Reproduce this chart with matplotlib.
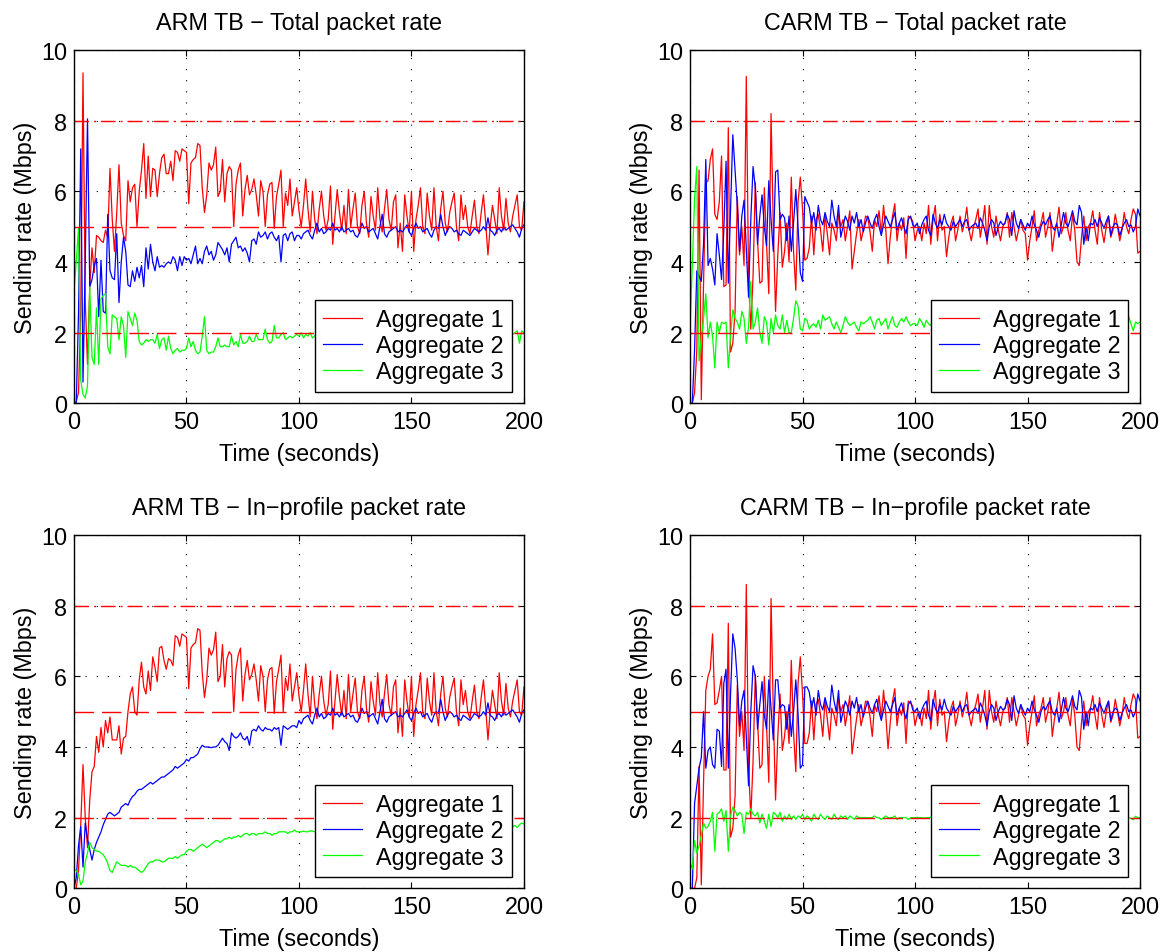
"""
Sending rate of three aggregates, ARM vs CARM token bucket (total and in-profile).
"""
import numpy as np
import matplotlib
matplotlib.use("Agg")
import matplotlib.pyplot as plt

plt.rcParams['font.family'] = ['Liberation Sans', 'DejaVu Sans']
plt.rcParams['font.size'] = 16.8

# ---------------- data: Mbps, one sample per second ----------------
# ARM, aggregate 1 (red); total and in-profile share the part after t=45 s
arm_red_total_head = [
    0.0, 0.05, 0.3, 2.6, 9.35, 2.9, 1.1, 3.3, 4.4, 3.7,
    4.75, 4.7, 4.6, 4.55, 4.9, 4.7, 6.65, 5.2, 4.3, 5.4,
    6.75, 5.1, 4.75, 4.6, 6.3, 5.7, 6.1, 6.2, 5.0, 6.0,
    6.6, 7.35, 5.8, 7.0, 5.85, 6.65, 6.6, 5.85, 6.5, 6.95,
    7.05, 6.5, 6.5, 6.85, 6.3]
arm_red_in_head = [
    0.0, 0.0, 0.5, 1.8, 3.5, 2.0, 1.15, 2.5, 3.3, 3.45,
    4.3, 3.85, 4.55, 4.0, 4.75, 4.4, 4.85, 4.2, 4.2, 4.2,
    4.6, 3.8, 4.25, 4.3, 5.0, 5.5, 5.7, 5.0, 4.9, 5.9,
    6.4, 5.7, 5.5, 6.15, 5.6, 6.55, 6.25, 5.85, 6.8, 6.85,
    6.45, 6.2, 6.5, 6.45, 6.3]
arm_red_tail = [
    7.15, 7.1, 6.85, 7.2, 7.15,
    7.1, 5.65, 6.8, 6.9, 6.95, 7.35, 7.3, 6.1, 5.4, 5.9,
    6.8, 6.6, 6.75, 7.25, 5.85, 6.0, 6.9, 5.7, 6.5, 6.7,
    6.6, 5.0, 6.2, 6.6, 6.8, 5.3, 6.05, 6.45, 5.9, 6.05,
    6.35, 5.9, 5.3, 6.3, 6.0, 5.0, 5.9, 6.2, 6.25, 4.95,
    5.85, 6.2, 6.6, 5.0, 5.95, 5.6, 6.35, 5.3, 5.7, 6.1,
    5.45, 5.0, 5.6, 6.35, 5.5, 4.85, 6.0, 5.2, 4.8, 5.5,
    6.0, 5.3, 4.9, 5.2, 6.15, 4.5, 5.3, 6.05, 5.4, 4.9,
    5.6, 4.8, 6.05, 5.0, 5.5, 5.95, 5.0, 4.8, 5.6, 6.0,
    5.1, 4.7, 5.85, 5.3, 4.9, 6.1, 5.2, 4.85, 5.5, 6.05,
    5.2, 4.9, 5.7, 5.9, 4.4, 5.1, 4.3, 5.9, 5.3, 4.85,
    6.0, 4.3, 5.2, 5.6, 6.1, 5.0, 4.8, 5.95, 5.3, 4.9,
    6.1, 5.0, 4.6, 5.5, 6.0, 5.1, 4.85, 5.4, 5.7, 5.95,
    5.0, 4.6, 5.9, 5.2, 5.6, 5.0, 4.8, 5.3, 5.75, 5.0,
    4.8, 5.4, 5.9, 5.1, 4.2, 5.0, 5.6, 5.2, 4.8, 6.1,
    5.3, 4.9, 5.8, 5.1, 4.85, 5.3, 5.6, 5.9, 5.0, 4.9,
    5.7]

# ARM, aggregate 2 (blue); shared part after t=100 s
arm_blue_total_head = [
    0.0, 0.0, 2.5, 7.2, 0.6, 4.0, 8.05, 3.3, 3.5, 3.9,
    4.1, 2.45, 4.05, 2.6, 2.55, 5.35, 3.75, 3.55, 3.5, 4.8,
    2.85, 4.0, 4.7, 4.3, 3.35, 3.3, 3.75, 3.45, 3.85, 3.55,
    3.9, 3.3, 4.4, 3.8, 4.5, 4.0, 3.75, 4.15, 3.85, 3.9,
    3.85, 3.95, 4.0, 3.95, 4.15, 4.05, 3.75, 4.15, 3.9, 4.15,
    4.05, 4.1, 3.95, 4.2, 4.45, 3.95, 4.1, 3.95, 4.3, 4.45,
    4.2, 4.3, 4.05, 4.2, 4.55, 4.45, 4.35, 4.2, 4.4, 4.0,
    4.5, 4.6, 4.7, 4.4, 4.45, 4.3, 4.4, 4.25, 4.0, 4.6,
    4.65, 4.5, 4.85, 4.7, 4.75, 4.85, 4.65, 4.8, 4.85, 4.7,
    4.6, 4.75, 4.0, 4.75, 4.8, 4.6, 4.8, 4.85, 4.6, 4.75]
arm_blue_in_head = [
    0.0, 0.3, 1.2, 1.75, 0.6, 1.85, 1.4, 1.1, 0.8, 1.1,
    1.3, 1.45, 1.6, 1.8, 1.95, 2.1, 2.15, 2.1, 2.05, 2.1,
    2.15, 2.3, 2.35, 2.4, 2.35, 2.5, 2.6, 2.65, 2.75, 2.8,
    2.8, 2.85, 2.9, 2.95, 3.0, 2.95, 3.0, 3.05, 3.1, 3.15,
    3.15, 3.2, 3.25, 3.3, 3.35, 3.45, 3.4, 3.45, 3.5, 3.55,
    3.65, 3.6, 3.7, 3.7, 3.75, 3.8, 3.95, 4.05, 4.0, 4.0,
    4.0, 3.98, 4.0, 4.0, 4.05, 4.15, 4.25, 4.15, 4.1, 3.9,
    4.4, 4.3, 4.25, 4.3, 4.4, 4.25, 4.2, 4.3, 4.05, 4.45,
    4.5, 4.45, 4.6, 4.5, 4.45, 4.55, 4.5, 4.5, 4.45, 4.55,
    4.5, 4.55, 4.05, 4.6, 4.55, 4.5, 4.55, 4.6, 4.6, 4.55]
arm_blue_tail = [
    4.75, 4.65, 4.8, 4.85, 4.9, 4.75, 4.65, 4.9, 5.1, 4.85,
    4.95, 4.8, 4.85, 4.95, 4.9, 5.1, 4.9, 4.95, 4.85, 5.0,
    4.85, 4.9, 4.95, 4.85, 4.9, 4.75, 4.7, 4.85, 5.1, 4.95,
    5.0, 4.85, 4.9, 4.95, 4.8, 4.65, 5.0, 5.35, 4.8, 4.7,
    4.85, 4.9, 4.95, 5.0, 4.85, 4.9, 4.85, 4.95, 5.05, 4.85,
    4.75, 4.95, 5.1, 4.95, 5.0, 4.85, 4.9, 4.95, 4.8, 4.7,
    4.9, 5.0, 4.95, 5.35, 5.0, 4.75, 4.9, 5.0, 4.95, 4.85,
    4.9, 4.8, 4.75, 4.9, 4.85, 4.8, 4.75, 4.85, 4.95, 4.9,
    4.85, 4.9, 5.0, 4.9, 5.25, 4.9, 4.85, 4.75, 4.9, 4.95,
    4.85, 5.0, 4.9, 4.95, 5.0, 5.05, 4.95, 4.85, 4.7, 4.95,
    5.05]

# ARM, aggregate 3 (green)
arm_green_total = [
    3.2, 4.0, 4.95, 0.65, 0.25, 0.15, 0.5, 3.3, 1.3, 1.1,
    2.7, 1.1, 2.95, 3.05, 3.1, 1.6, 1.4, 2.5, 2.45, 2.4,
    1.8, 2.45, 2.2, 1.3, 2.6, 2.4, 2.2, 2.55, 2.35, 1.75,
    1.65, 1.7, 1.8, 1.75, 1.8, 1.8, 1.7, 1.95, 1.55, 1.8,
    1.85, 1.5, 1.9, 1.55, 1.4, 1.5, 1.55, 1.45, 1.5, 1.5,
    1.55, 1.85, 1.6, 1.75, 1.5, 1.4, 1.45, 1.9, 2.45, 1.5,
    1.4, 1.45, 1.45, 1.6, 1.85, 1.6, 1.6, 1.65, 1.6, 1.6,
    1.9, 1.65, 1.75, 1.6, 1.95, 1.7, 1.7, 1.75, 1.9, 1.75,
    1.75, 1.95, 1.8, 1.8, 1.8, 2.1, 1.8, 1.7, 1.75, 2.2,
    1.85, 1.85, 1.95, 2.0, 1.8, 1.85, 1.9, 1.85, 1.9, 1.95,
    1.9, 2.0, 1.85, 1.95, 1.9, 2.0, 1.85, 1.9, 2.0, 1.95,
    1.85, 1.95, 2.05, 1.9, 1.85, 2.0, 1.95, 1.9, 2.05, 1.9,
    1.95, 1.85, 2.0, 1.95, 1.9, 2.05, 1.85, 1.95, 2.0, 1.9,
    1.9, 2.0, 1.85, 1.95, 2.05, 1.9, 1.95, 1.85, 2.0, 1.95,
    1.9, 2.05, 1.95, 1.85, 2.0, 1.9, 1.95, 2.0, 1.85, 1.95,
    2.0, 1.9, 1.95, 2.05, 1.85, 1.95, 2.0, 1.9, 1.95, 1.85,
    2.0, 1.95, 1.9, 2.05, 1.9, 1.95, 1.85, 2.0, 1.95, 1.9,
    2.05, 1.9, 1.95, 1.85, 2.0, 1.9, 1.95, 2.05, 1.9, 1.95,
    1.85, 2.0, 1.95, 1.9, 2.05, 1.9, 1.95, 1.85, 2.0, 1.95,
    1.9, 2.0, 1.95, 1.85, 2.0, 1.95, 2.0, 2.05, 1.7, 2.05,
    2.0]
arm_green_in = [
    0.55, 0.5, 0.4, 0.1, 0.2, 0.75, 1.0, 1.3, 1.15, 1.1,
    1.05, 1.05, 1.0, 0.95, 0.85, 0.7, 0.5, 0.45, 0.6, 0.75,
    0.7, 0.65, 0.65, 0.65, 0.6, 0.65, 0.6, 0.6, 0.55, 0.5,
    0.45, 0.5, 0.6, 0.7, 0.75, 0.75, 0.8, 0.8, 0.8, 0.75,
    0.75, 0.8, 0.85, 0.85, 0.85, 0.9, 0.85, 0.9, 0.95, 0.95,
    1.05, 1.1, 1.1, 1.05, 1.1, 1.15, 1.2, 1.25, 1.2, 1.15,
    1.2, 1.25, 1.3, 1.35, 1.35, 1.3, 1.35, 1.4, 1.4, 1.45,
    1.4, 1.45, 1.45, 1.5, 1.45, 1.5, 1.55, 1.55, 1.5, 1.55,
    1.55, 1.5, 1.55, 1.55, 1.55, 1.6, 1.55, 1.55, 1.5, 1.55,
    1.55, 1.6, 1.6, 1.6, 1.6, 1.55, 1.6, 1.6, 1.65, 1.6,
    1.6, 1.6, 1.62, 1.6, 1.6, 1.63, 1.62, 1.6, 1.63, 1.65,
    1.63, 1.65, 1.64, 1.66, 1.65, 1.66, 1.68, 1.66, 1.67, 1.68,
    1.66, 1.68, 1.7, 1.68, 1.69, 1.7, 1.68, 1.7, 1.72, 1.7,
    1.71, 1.72, 1.7, 1.72, 1.73, 1.72, 1.74, 1.72, 1.73, 1.75,
    1.73, 1.74, 1.75, 1.74, 1.76, 1.75, 1.74, 1.76, 1.75, 1.77,
    1.76, 1.75, 1.77, 1.76, 1.78, 1.76, 1.77, 1.78, 1.76, 1.77,
    1.78, 1.77, 1.76, 1.78, 1.77, 1.79, 1.78, 1.77, 1.79, 1.78,
    1.77, 1.79, 1.78, 1.8, 1.78, 1.77, 1.79, 1.8, 1.78, 1.79,
    1.8, 1.78, 1.79, 1.8, 1.78, 1.8, 1.79, 1.78, 1.8, 1.79,
    1.78, 1.8, 1.79, 1.77, 1.8, 1.75, 1.78, 1.72, 1.8, 1.85,
    1.82]

# CARM, aggregate 1 (red); shared part after t=52 s
carm_red_total_head = [
    0.0, 0.0, 0.3, 1.5, 6.6, 0.1, 3.4, 6.25, 6.3, 6.9,
    7.2, 5.35, 5.2, 5.7, 7.0, 3.3, 3.35, 7.8, 1.45, 1.7,
    2.6, 5.85, 4.2, 5.0, 3.9, 9.25, 3.5, 2.1, 3.6, 6.25,
    4.6, 3.4, 3.45, 6.1, 4.5, 3.1, 8.2, 5.0, 2.6, 4.2,
    5.4, 3.85, 4.3, 5.1, 4.0, 6.4, 4.3, 3.2, 5.7, 6.4,
    5.5, 4.05]
carm_red_in_head = [
    0.0, 0.0, 0.0, 0.3, 3.45, 0.1, 3.0, 5.6, 6.0, 6.2,
    7.2, 5.2, 5.25, 5.6, 6.0, 3.35, 3.35, 7.5, 1.45, 1.7,
    2.6, 5.75, 4.3, 5.0, 3.9, 8.6, 3.5, 2.0, 3.6, 6.05,
    4.7, 3.4, 3.5, 6.0, 4.6, 3.0, 8.2, 5.0, 2.5, 4.3,
    5.5, 3.9, 4.3, 5.0, 4.1, 6.45, 4.4, 3.3, 5.8, 6.55,
    5.5, 4.1]
carm_red_tail = [
    4.1, 4.4, 5.3, 4.2, 5.2, 5.35, 4.9, 4.3,
    5.35, 4.8, 4.2, 5.1, 4.9, 4.6, 5.35, 5.0, 5.2, 4.6,
    5.0, 5.45, 3.8, 4.3, 4.8, 5.2, 4.6, 4.9, 5.3, 5.25,
    4.85, 4.3, 5.2, 5.0, 5.45, 4.8, 5.6, 4.9, 3.95, 4.7,
    5.3, 5.65, 4.6, 5.1, 4.9, 5.25, 4.1, 5.3, 5.25, 5.15,
    4.6, 4.9, 5.0, 4.6, 5.1, 4.8, 5.6, 4.5, 5.2, 5.6,
    4.6, 5.35, 4.9, 5.0, 4.15, 4.7, 5.1, 5.3, 4.6, 4.9,
    5.3, 4.85, 5.1, 5.55, 4.9, 4.6, 5.0, 5.2, 5.5, 4.7,
    5.1, 5.6, 4.5, 5.6, 5.0, 4.7, 5.3, 4.9, 4.6, 5.0,
    5.1, 5.4, 4.7, 5.4, 5.0, 4.6, 4.9, 5.2, 4.9, 4.8,
    4.05, 4.6, 5.0, 5.45, 4.6, 4.9, 5.1, 5.4, 4.7, 5.0,
    5.4, 4.3, 4.8, 5.1, 5.55, 4.8, 5.0, 5.4, 4.9, 4.6,
    5.35, 4.9, 4.0, 3.9, 4.7, 5.3, 4.6, 5.0, 5.1, 5.45,
    4.9, 4.5, 5.4, 4.9, 4.55, 5.0, 5.3, 4.7, 4.9, 5.35,
    5.0, 4.6, 4.9, 5.4, 5.0, 4.8, 5.2, 5.5, 5.35, 4.25,
    4.3]

# CARM, aggregate 2 (blue); shared part after t=52 s
carm_blue_total_head = [
    0.0, 0.0, 1.5, 3.75, 3.6, 3.45, 4.5, 6.9, 3.9, 4.1,
    3.8, 3.35, 4.8, 4.2, 3.5, 4.9, 6.85, 3.4, 5.5, 7.6,
    6.6, 5.6, 4.3, 5.3, 5.75, 4.4, 3.0, 5.2, 6.7, 6.1,
    4.5, 5.3, 5.9, 5.0, 4.45, 6.3, 5.2, 4.3, 6.55, 6.6,
    5.2, 5.35, 5.25, 4.6, 5.3, 4.3, 5.1, 6.05, 5.0, 3.7,
    3.45, 5.85]
carm_blue_in_head = [
    0.0, 0.0, 2.4, 2.9, 3.4, 3.7, 5.0, 3.4, 3.9, 4.0,
    3.5, 3.4, 4.5, 4.45, 3.45, 5.8, 6.2, 3.4, 5.5, 7.2,
    6.8, 5.9, 4.6, 5.3, 5.6, 4.3, 2.9, 5.0, 6.3, 6.0,
    4.5, 5.2, 5.85, 4.9, 4.5, 5.9, 5.1, 4.2, 5.9, 5.9,
    5.1, 5.2, 5.15, 4.5, 5.2, 4.3, 5.0, 5.9, 4.95, 3.4,
    3.5, 5.7]
carm_blue_tail = [
    5.7, 5.55, 5.1, 5.4, 4.9, 5.6, 5.2, 5.05,
    5.4, 5.15, 5.0, 5.75, 5.3, 5.0, 5.6, 4.7, 5.0, 5.3,
    5.15, 4.9, 5.3, 5.1, 5.4, 5.0, 5.2, 4.85, 5.1, 5.3,
    5.1, 4.95, 5.2, 5.35, 5.0, 4.75, 5.05, 5.3, 5.15, 5.0,
    5.2, 5.4, 4.9, 5.1, 5.25, 5.0, 4.8, 5.2, 5.3, 5.05,
    5.0, 5.1, 4.8, 5.05, 5.2, 5.3, 4.9, 4.75, 5.35, 5.1,
    4.95, 5.2, 5.05, 5.35, 5.1, 5.0, 4.9, 5.15, 5.0, 5.1,
    5.2, 5.0, 5.15, 5.2, 4.9, 5.0, 5.05, 5.1, 4.95, 5.25,
    5.1, 4.9, 4.6, 5.0, 5.2, 5.1, 4.75, 5.0, 5.15, 5.05,
    5.1, 5.35, 5.2, 4.75, 5.45, 5.1, 4.95, 5.2, 5.05, 4.9,
    5.1, 5.0, 5.3, 5.05, 4.9, 4.7, 5.0, 5.15, 5.05, 5.2,
    5.3, 5.0, 4.9, 5.1, 4.7, 5.05, 5.4, 5.1, 5.0, 5.2,
    5.45, 5.15, 5.05, 5.6, 5.4, 4.5, 5.0, 4.6, 5.1, 5.05,
    5.2, 5.0, 5.25, 5.1, 4.95, 5.15, 5.3, 4.75, 5.0, 5.1,
    5.05, 4.75, 4.95, 5.1, 5.2, 5.0, 5.05, 4.85, 5.0, 5.5,
    5.3]

# CARM, aggregate 3 (green)
carm_green_total = [
    2.2, 3.9, 5.8, 6.7, 1.2, 1.85, 2.4, 3.1, 1.85, 2.3,
    1.9, 1.0, 2.3, 2.0, 2.3, 2.25, 2.3, 1.0, 1.9, 2.65,
    2.4, 2.3, 2.1, 2.6, 2.4, 1.7, 2.15, 3.45, 2.1, 2.3,
    2.7, 2.0, 1.7, 2.45, 2.3, 1.65, 2.4, 2.0, 2.5, 2.2,
    2.1, 2.5, 2.0, 2.35, 2.0, 2.0, 2.4, 2.9, 2.75, 2.1,
    2.05, 2.4, 2.35, 2.1, 2.2, 2.25, 2.15, 2.35, 2.1, 2.5,
    2.35, 2.4, 2.45, 2.25, 2.1, 2.3, 2.15, 2.0, 2.2, 2.45,
    2.3, 2.2, 2.25, 2.3, 2.15, 2.05, 2.3, 2.25, 2.3, 2.35,
    2.45, 2.3, 2.1, 2.35, 2.4, 2.2, 2.3, 2.4, 2.1, 2.3,
    2.45, 2.2, 2.15, 2.3, 2.4, 2.3, 2.45, 2.3, 2.2, 2.25,
    2.25, 2.2, 2.4, 2.3, 2.15, 2.35, 2.25, 2.2, 2.4, 2.3,
    2.15, 2.3, 2.4, 2.2, 2.25, 2.4, 2.15, 2.3, 2.35, 2.2,
    2.3, 2.4, 2.2, 2.25, 2.35, 2.15, 2.3, 2.4, 2.2, 2.3,
    2.35, 2.2, 2.25, 2.4, 2.2, 2.3, 2.35, 2.15, 2.3, 2.4,
    2.2, 2.25, 2.35, 2.2, 2.3, 2.4, 2.15, 2.3, 2.35, 2.2,
    2.3, 2.4, 2.2, 2.25, 2.35, 2.2, 2.3, 2.4, 2.15, 2.3,
    2.35, 2.2, 2.25, 2.4, 2.2, 2.3, 2.35, 2.15, 2.3, 2.4,
    2.2, 2.25, 2.35, 2.2, 2.3, 2.4, 2.2, 2.25, 2.35, 2.2,
    2.3, 2.4, 2.15, 2.3, 2.35, 2.2, 2.25, 2.4, 2.2, 2.3,
    2.35, 2.2, 2.3, 2.4, 2.25, 2.45, 2.25, 2.05, 2.3, 2.25,
    2.3]
carm_green_in = [
    0.75, 0.55, 1.35, 1.0, 1.2, 1.5, 1.85, 1.7, 1.75, 1.9,
    2.15, 1.05, 2.1, 2.15, 2.25, 1.9, 2.2, 1.05, 2.05, 2.3,
    2.2, 2.05, 2.15, 2.1, 1.55, 2.15, 2.1, 2.25, 2.1, 2.05,
    2.15, 1.85, 2.1, 1.9, 1.7, 2.1, 1.75, 2.15, 2.1, 2.0,
    2.15, 1.9, 2.05, 1.95, 2.1, 1.95, 2.05, 1.95, 2.05, 2.0,
    2.1, 1.95, 2.05, 2.0, 1.9, 2.1, 2.0, 1.95, 2.1, 2.0,
    1.95, 2.05, 2.0, 1.95, 2.1, 2.0, 1.95, 2.05, 2.0, 2.05,
    1.95, 2.05, 2.0, 1.95, 2.05, 2.0, 2.0, 2.0, 2.0, 2.0,
    2.0, 2.0, 2.05, 2.0, 2.0, 1.95, 2.0, 2.05, 2.0, 2.0,
    2.0, 2.05, 1.95, 2.0, 2.0, 2.0, 2.0, 1.95, 2.0, 2.0,
    2.0, 2.01, 2.0, 2.0, 1.99, 2.0, 2.0, 2.01, 2.0, 2.0,
    2.0, 2.0, 1.99, 2.0, 2.0, 2.01, 2.0, 2.0, 2.0, 1.99,
    2.0, 2.0, 2.01, 2.0, 2.0, 2.0, 1.99, 2.0, 2.0, 2.01,
    2.0, 2.0, 2.0, 1.99, 2.0, 2.0, 2.01, 2.0, 2.0, 2.0,
    1.99, 2.0, 2.0, 2.01, 2.0, 2.0, 2.0, 1.99, 2.0, 2.0,
    2.01, 2.0, 2.0, 2.0, 1.99, 2.0, 2.0, 2.01, 2.0, 2.0,
    2.0, 1.99, 2.0, 2.0, 2.01, 2.0, 2.0, 2.0, 1.99, 2.0,
    2.0, 2.01, 2.0, 2.0, 2.0, 1.99, 2.0, 2.0, 2.01, 2.0,
    2.0, 2.0, 1.99, 2.0, 2.0, 2.01, 2.0, 2.0, 2.0, 1.99,
    2.0, 2.0, 2.01, 2.0, 2.0, 2.0, 1.98, 1.94, 2.04, 2.0,
    2.0]

titles = ['ARM TB \u2212 Total packet rate', 'CARM TB \u2212 Total packet rate',
          'ARM TB \u2212 In\u2212profile packet rate',
          'CARM TB \u2212 In\u2212profile packet rate']
series_names = ['Aggregate 1', 'Aggregate 2', 'Aggregate 3']
target_rates = [8, 5, 2]
x_ticks = [0, 50, 100, 150, 200]
y_ticks = [0, 2, 4, 6, 8, 10]

panels = [
    (arm_red_total_head + arm_red_tail, arm_blue_total_head + arm_blue_tail, arm_green_total),
    (carm_red_total_head + carm_red_tail, carm_blue_total_head + carm_blue_tail, carm_green_total),
    (arm_red_in_head + arm_red_tail, arm_blue_in_head + arm_blue_tail, arm_green_in),
    (carm_red_in_head + carm_red_tail, carm_blue_in_head + carm_blue_tail, carm_green_in),
]

RED, BLUE, GREEN = '#ff0000', '#0000ff', '#00ff00'
ref_styles = {8: (0, (10.5, 3.6, 1.4, 3.6)), 5: (0, (14.0, 5.8)), 2: (0, (14.0, 5.8))}

fig = plt.figure(figsize=(11.69, 9.53), dpi=100)
boxes = [[0.0633, 0.5758, 0.3849, 0.3707], [0.5903, 0.5758, 0.3849, 0.3707],
         [0.0633, 0.0668, 0.3849, 0.3708], [0.5903, 0.0668, 0.3849, 0.3708]]

for box, title, (red, blue, green) in zip(boxes, titles, panels):
    ax = fig.add_axes(box)
    handles = []
    for vals, col, name in zip((red, blue, green), (RED, BLUE, GREEN), series_names):
        h, = ax.plot(np.arange(len(vals)), vals, color=col, lw=0.9, label=name)
        handles.append(h)
    for level in target_rates:
        ax.axhline(level, color=RED, lw=1.0, ls=ref_styles[level], zorder=2.5)
    ax.set_xlim(0, 200)
    ax.set_ylim(0, 10)
    ax.set_xticks(x_ticks)
    ax.set_yticks(y_ticks)
    ax.grid(True, color='black', lw=0.8, ls=(0, (1, 9)))
    ax.tick_params(direction='in', top=True, right=True, length=4.5, width=0.8,
                   labelsize=16.8, pad=5)
    for sp in ax.spines.values():
        sp.set_linewidth(1.0)
    ax.set_title(title, fontsize=16.8, pad=15)
    ax.set_xlabel('Time (seconds)', fontsize=16.8, labelpad=6)
    ax.set_ylabel('Sending rate (Mbps)', fontsize=16.8, labelpad=3)
    leg = ax.legend(handles=handles, loc='lower right', fontsize=16.8,
                    fancybox=False, framealpha=1, edgecolor='black',
                    borderpad=0.35, labelspacing=0.13, handlelength=1.7,
                    handletextpad=0.6, borderaxespad=0.5)
    leg.get_frame().set_linewidth(1.0)

fig.savefig('out.png', dpi=100)
